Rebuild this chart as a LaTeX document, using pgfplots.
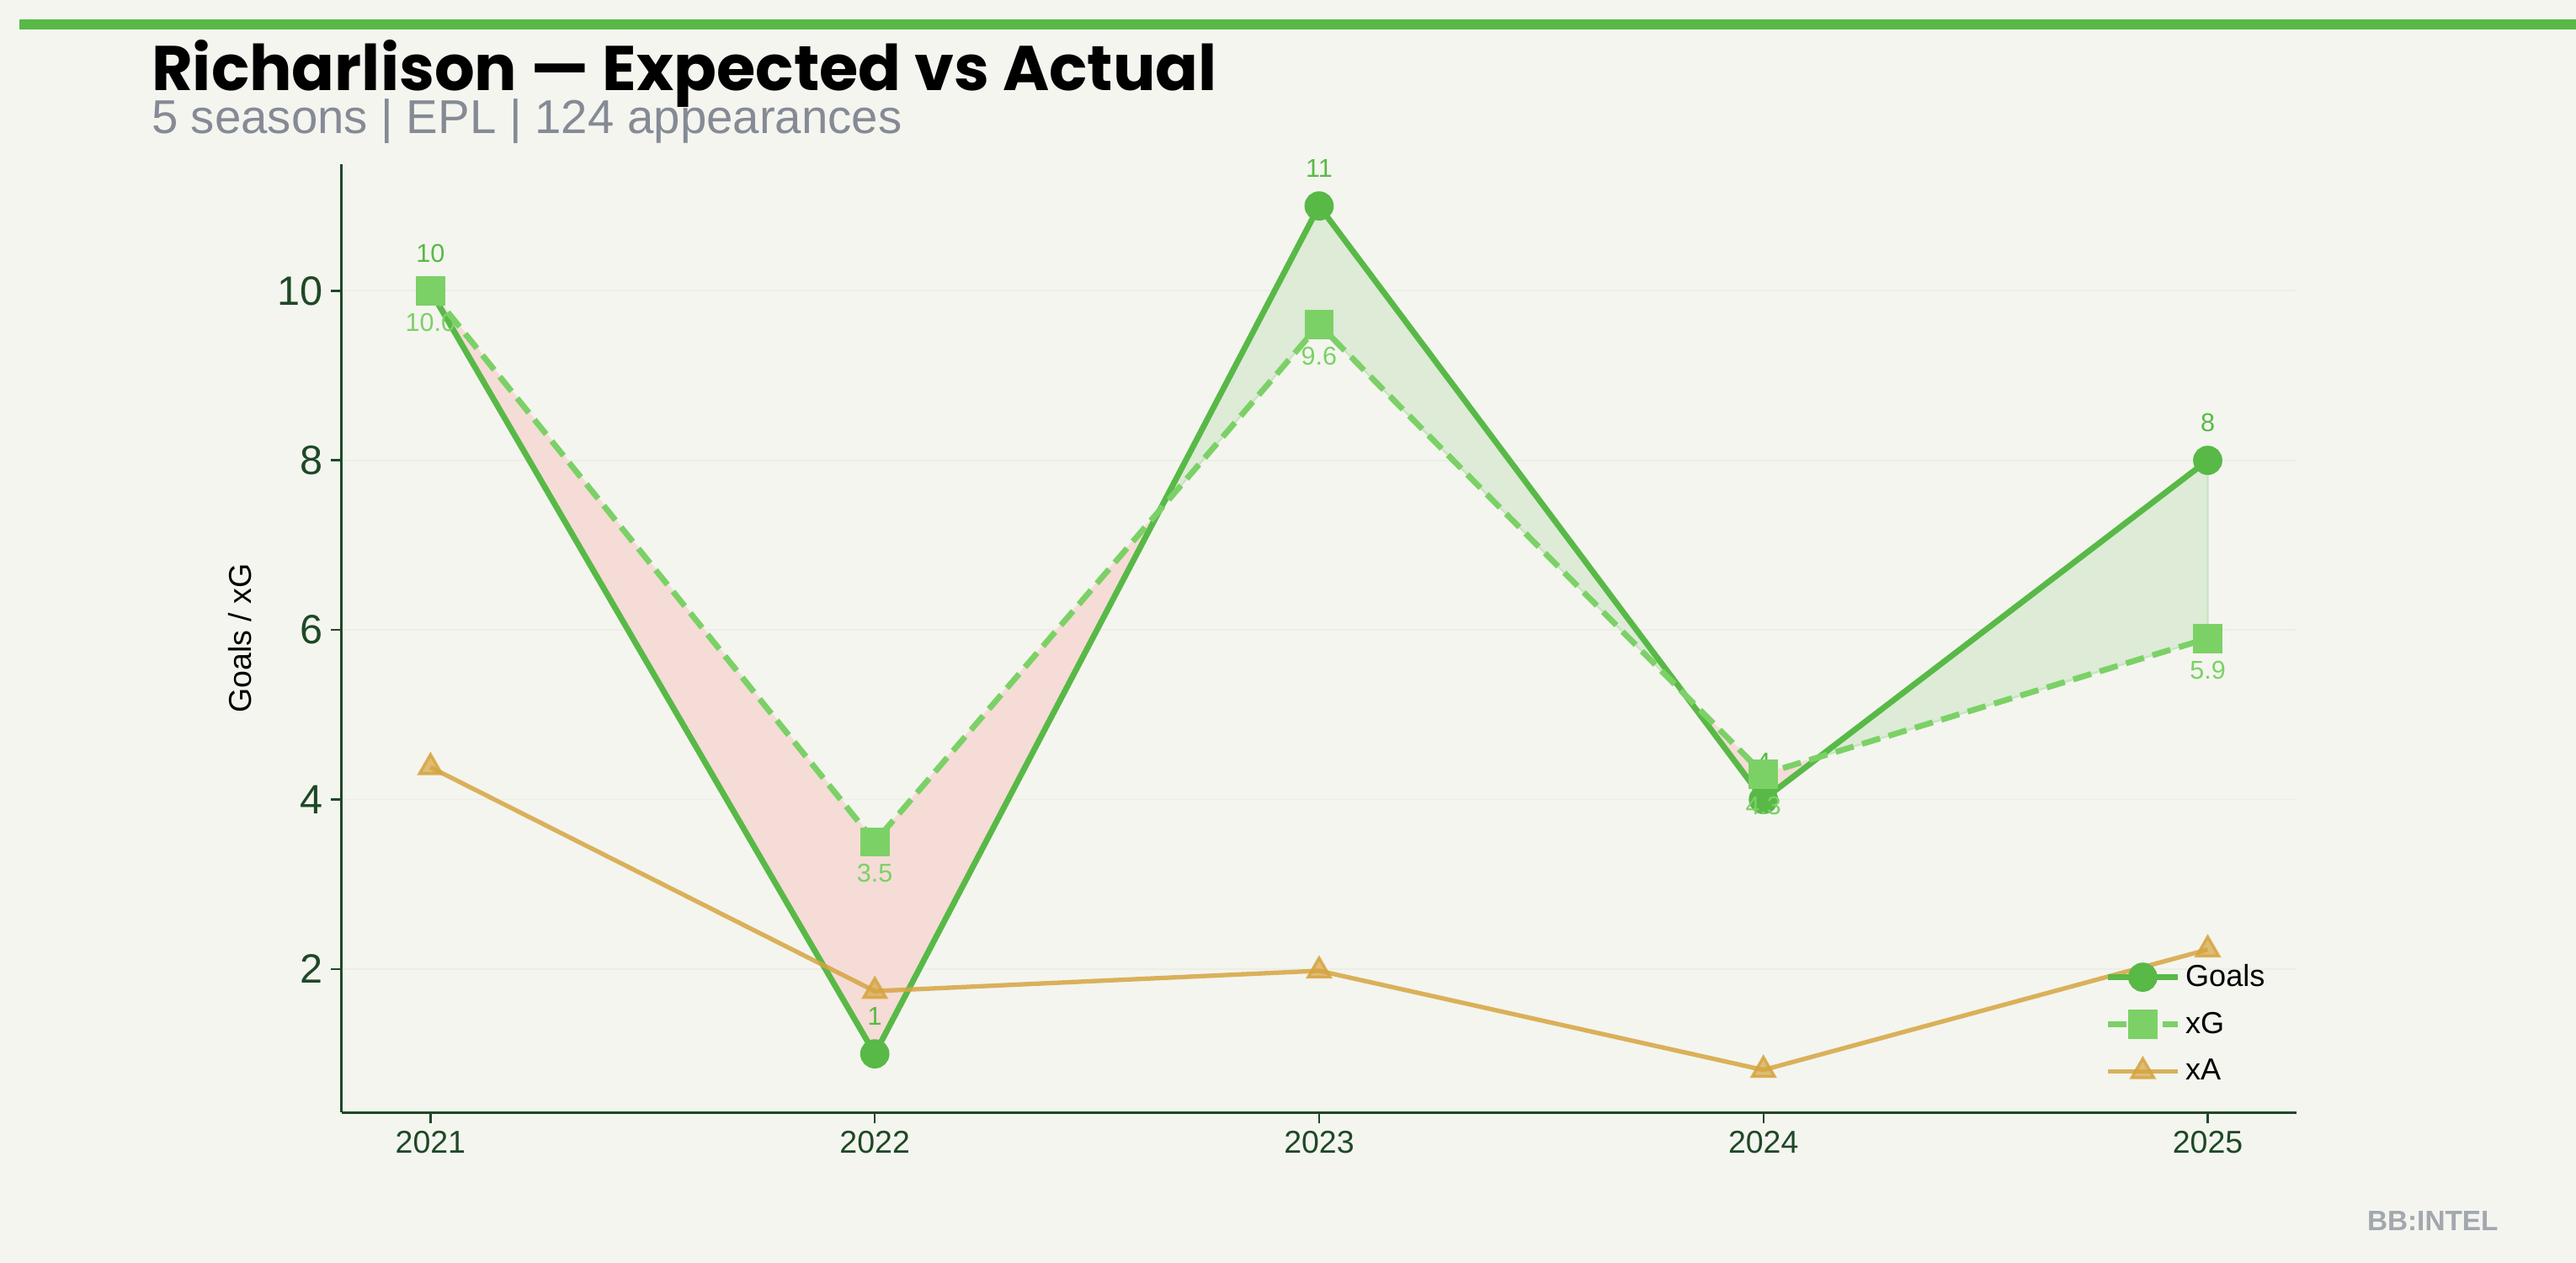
\documentclass[border=0pt]{standalone}
\usepackage{fontspec}
\setmainfont{Liberation Sans}
\newfontfamily\poppins{Poppins}
\usepackage{pgfplots}
\usepgfplotslibrary{fillbetween}
\pgfplotsset{compat=1.18}
\definecolor{bgc}{HTML}{F4F5EF}
\definecolor{goalc}{HTML}{58B947}
\definecolor{xgc}{HTML}{7BD166}
\definecolor{xac}{HTML}{D6A440}
\definecolor{redfill}{HTML}{F5DCD6}
\definecolor{greenfill}{HTML}{DDEBD7}
\definecolor{axc}{HTML}{1E4826}
\definecolor{subc}{HTML}{858A94}
\definecolor{wmc}{HTML}{A3A7AE}
\definecolor{gridc}{HTML}{ECEEE6}
\pagecolor{bgc}
\begin{document}
\begin{tikzpicture}
\draw[goalc, line width=4.4pt] (8.4pt,529.5pt) -- (1101.6pt,529.5pt);
\node[anchor=base west, inner sep=0pt] at (64.6pt,501.4pt) {\poppins\bfseries\fontsize{27}{27}\selectfont Richarlison — Expected vs Actual};
\node[anchor=base west, inner sep=0pt, text=subc] at (64.6pt,482.8pt) {\fontsize{20.3}{20.3}\selectfont 5 seasons | EPL | 124 appearances};
\node[anchor=east, inner sep=0pt, text=wmc] at (1068.5pt,18pt) {\bfseries\fontsize{12}{12}\selectfont BB:INTEL};
\begin{axis}[
  at={(146.1pt,64.4pt)}, anchor=south west,
  scale only axis, width=836pt, height=405.3pt,
  set layers,
  xmin=-0.2, xmax=4.2, ymin=0.31, ymax=11.49,
  axis x line*=bottom, axis y line*=left,
  axis line style={draw=axc, line width=1.1pt},
  x axis line style={-}, y axis line style={-},
  tick align=outside, major tick length=4.5pt,
  tick style={draw=axc, line width=0.9pt},
  xtick={0,1,2,3,4}, xticklabels={2021,2022,2023,2024,2025},
  xticklabel style={font=\fontsize{13.5}{13.5}\selectfont, text=axc},
  ytick={2,4,6,8,10},
  yticklabel style={font=\fontsize{17.5}{17.5}\selectfont, text=axc},
  /pgf/number format/assume math mode=true,
  ymajorgrids, major grid style={draw=gridc, line width=0.6pt},
  ylabel={Goals / xG},
  every axis y label/.style={at={(axis description cs:-0.052,0.5)}, rotate=90, anchor=center,
    font=\fontsize{13.5}{13.5}\selectfont, text=black},
  legend style={at={(0.99,0.02)}, anchor=south east, draw=none, fill=none,
    font=\fontsize{13}{13}\selectfont, row sep=5.5pt, cells={anchor=west}},
  legend image code/.code={\draw[mark repeat=2, mark phase=2] plot coordinates {(0pt,0pt)(15pt,0pt)(30pt,0pt)};},
  point meta=explicit symbolic,
]
\addplot[goalc, line width=2.5pt, mark=*, mark size=5pt, name path=G,
  nodes near coords, nodes near coords style={font=\fontsize{11}{11}\selectfont, text=goalc, anchor=center, yshift=16pt}]
  coordinates {(0,10)[10] (1,1)[1] (2,11)[11] (3,4)[4] (4,8)[8]};
\addlegendentry{Goals}
\addplot[xgc, line width=2.5pt, dash pattern=on 8pt off 3.8pt, mark=square*, mark size=5pt, mark options={solid}, name path=X,
  nodes near coords, nodes near coords style={font=\fontsize{11}{11}\selectfont, text=xgc, anchor=center, yshift=-13.5pt}]
  coordinates {(0,10.0)[10.0] (1,3.5)[3.5] (2,9.6)[9.6] (3,4.3)[4.3] (4,5.9)[5.9]};
\addlegendentry{xG}
\addplot[xac, draw opacity=0.85, line width=1.9pt, mark=triangle*, mark size=5.5pt, mark options={fill=xac, fill opacity=0.7, draw opacity=0.85, line width=1.2pt}]
  coordinates {(0,4.38) (1,1.74) (2,1.98) (3,0.81) (4,2.23)};
\addlegendentry{xA}
\addplot[forget plot] fill between[of=G and X, split,
  every even segment/.style={fill=redfill, draw=redfill!85!red!40!bgc, line width=0.8pt},
  every odd segment/.style={fill=greenfill, draw=greenfill!85!goalc, line width=0.8pt}];
\end{axis}
\pgfresetboundingbox
\path (0,0) rectangle (1101.6pt,540pt);
\end{tikzpicture}
\end{document}
